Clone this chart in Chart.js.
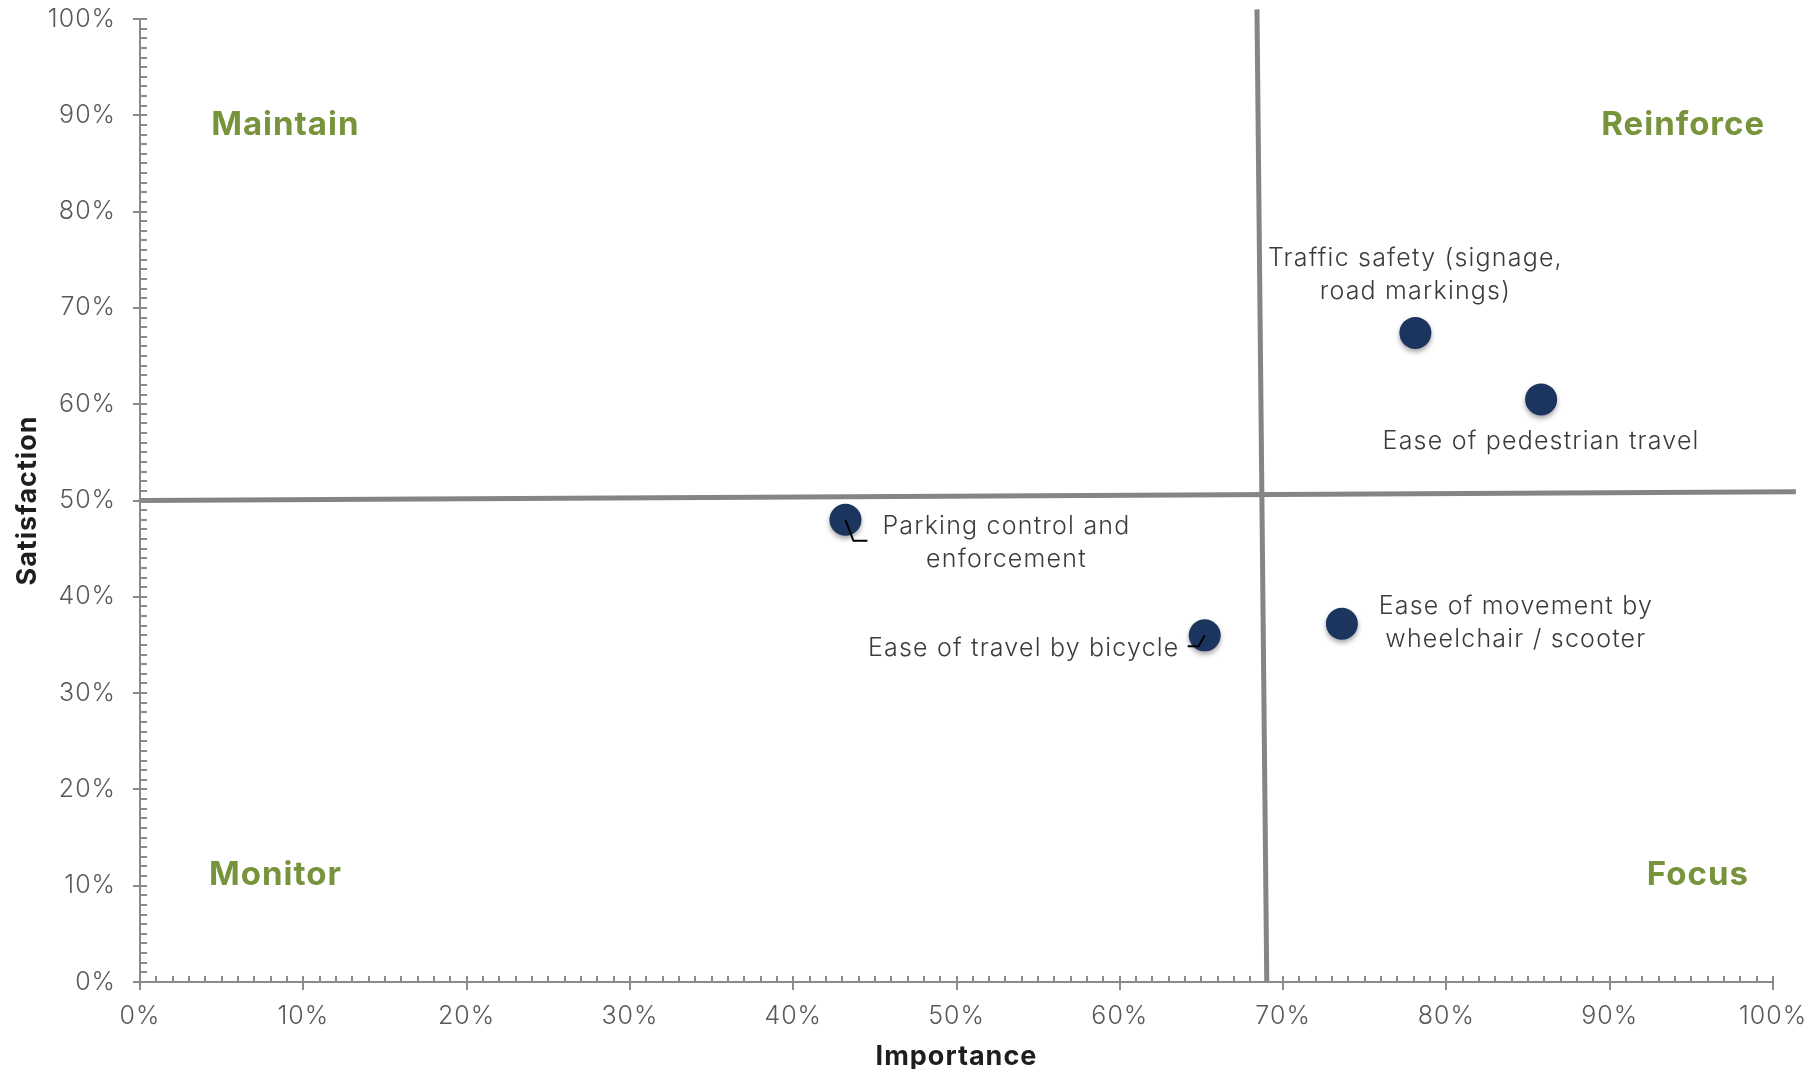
<!DOCTYPE html>
<html>
<head>
<meta charset="utf-8">
<title>Importance vs Satisfaction</title>
<script src="https://cdn.jsdelivr.net/npm/chart.js@4.4.1/dist/chart.umd.min.js"></script>
<style>
  html, body { margin: 0; padding: 0; background: #fff; }
  #wrap { width: 1809px; height: 1069px; }
</style>
</head>
<body>
<div id="wrap"><canvas id="chart" width="1809" height="1069"></canvas></div>
<script>
// survey items, importance (x) and satisfaction (y) in percent
const categories = [
  'Parking control and enforcement',
  'Ease of travel by bicycle',
  'Ease of movement by wheelchair / scooter',
  'Traffic safety (signage, road markings)',
  'Ease of pedestrian travel'
];
const importance = [43.2, 65.2, 73.6, 78.1, 85.8];
const satisfaction = [48.0, 36.0, 37.2, 67.4, 60.5];

// axis tick values
const axisTicks = [0, 10, 20, 30, 40, 50, 60, 70, 80, 90, 100];

// quadrant names and the two dividing lines (drawn by hand, slightly skewed)
const quadrantNames = ['Maintain', 'Reinforce', 'Monitor', 'Focus'];
const dividerH = [{ x: 0, y: 50.0 }, { x: 101.4, y: 50.9 }];
const dividerV = [{ x: 68.4, y: 101.0 }, { x: 69.0, y: 0 }];

// --- layout / styling (not data) ---
const FONT = "'Inter', 'Open Sans', sans-serif";
const GREY = '#8a8a8a';
const NAVY = '#1c355e';
const GREEN = '#77933c';

// where each quadrant name sits, in axis units
const quadrantAnchors = [[8.9, 89.0], [94.5, 89.0], [8.3, 11.1], [95.4, 11.1]];

// label text lines and pixel offset from its point; leader = small callout line
const pointLabels = [
  { lines: ['Parking control and', 'enforcement'], dx: 161, dy: 7, leader: [[0, 0], [8, 21], [22, 21]] },
  { lines: ['Ease of travel by bicycle'], dx: -181, dy: 13, leader: [[0, 0], [-6, 11], [-17, 11]] },
  { lines: ['Ease of movement by', 'wheelchair / scooter'], dx: 174, dy: -17 },
  { lines: ['Traffic safety (signage,', 'road markings)'], dx: 0, dy: -74 },
  { lines: ['Ease of pedestrian travel'], dx: 0, dy: 42 }
];

const points = importance.map((x, i) => ({ x, y: satisfaction[i] }));

// wider tracking for every text the chart draws
const tracking = {
  id: 'tracking',
  beforeDraw(chart) {
    chart.ctx.letterSpacing = '1px';
  }
};

// small inward ticks every 1%, like the original axis
const minorTicks = {
  id: 'minorTicks',
  afterDatasetsDraw(chart) {
    const { ctx, scales: { x, y } } = chart;
    ctx.save();
    ctx.strokeStyle = GREY;
    ctx.lineWidth = 2;
    ctx.beginPath();
    for (let v = 0; v <= 100; v++) {
      const px = Math.round(x.getPixelForValue(v));
      ctx.moveTo(px, y.bottom);
      ctx.lineTo(px, y.bottom - 6);
      const py = Math.round(y.getPixelForValue(v));
      ctx.moveTo(x.left, py);
      ctx.lineTo(x.left + 7, py);
    }
    ctx.stroke();
    ctx.restore();
  }
};

// soft drop shadow under the markers
const markerShadow = {
  id: 'markerShadow',
  beforeDatasetDraw(chart, args) {
    if (args.meta.type !== 'scatter') return;
    const ctx = chart.ctx;
    ctx.save();
    ctx.shadowColor = 'rgba(0,0,0,0.35)';
    ctx.shadowBlur = 5;
    ctx.shadowOffsetY = 3;
  },
  afterDatasetDraw(chart, args) {
    if (args.meta.type !== 'scatter') return;
    chart.ctx.restore();
  }
};

// point labels, callout lines and quadrant names
const annotations = {
  id: 'annotations',
  afterDraw(chart) {
    const { ctx, scales: { x, y } } = chart;
    const meta = chart.getDatasetMeta(0);
    ctx.save();
    ctx.textAlign = 'center';
    ctx.textBaseline = 'middle';
    ctx.letterSpacing = '1.2px';
    ctx.font = `300 25px ${FONT}`;
    ctx.fillStyle = '#3b3b3b';
    pointLabels.forEach((lab, i) => {
      const el = meta.data[i];
      lab.lines.forEach((t, k) => {
        ctx.fillText(t, el.x + lab.dx, el.y + lab.dy + k * 33);
      });
      if (lab.leader) {
        ctx.strokeStyle = '#000';
        ctx.lineWidth = 2;
        ctx.beginPath();
        lab.leader.forEach(([ox, oy], k) => {
          if (k === 0) ctx.moveTo(el.x + ox, el.y + oy);
          else ctx.lineTo(el.x + ox, el.y + oy);
        });
        ctx.stroke();
      }
    });
    ctx.letterSpacing = '1px';
    ctx.font = `bold 33px ${FONT}`;
    ctx.fillStyle = GREEN;
    quadrantNames.forEach((name, i) => {
      const [qx, qy] = quadrantAnchors[i];
      ctx.fillText(name, x.getPixelForValue(qx), y.getPixelForValue(qy));
    });
    ctx.restore();
  }
};

const axisCommon = {
  type: 'linear',
  min: 0,
  max: 100,
  afterBuildTicks(scale) {
    scale.ticks = axisTicks.map(v => ({ value: v }));
  },
  border: { color: GREY, width: 2 },
  grid: { drawOnChartArea: false, color: GREY, lineWidth: 2, tickWidth: 2 }
};

new Chart(document.getElementById('chart'), {
  data: {
    datasets: [
      {
        type: 'scatter',
        label: 'Items',
        data: points,
        pointRadius: 16,
        pointHoverRadius: 16,
        pointBackgroundColor: NAVY,
        pointBorderColor: NAVY,
        pointBorderWidth: 0,
        order: 1
      },
      {
        type: 'line',
        label: 'Importance divide',
        data: dividerV,
        borderColor: '#858585',
        borderWidth: 5,
        pointRadius: 0,
        clip: false,
        order: 2
      },
      {
        type: 'line',
        label: 'Satisfaction divide',
        data: dividerH,
        borderColor: '#858585',
        borderWidth: 5,
        pointRadius: 0,
        clip: false,
        order: 2
      }
    ]
  },
  options: {
    responsive: false,
    animation: false,
    layout: { padding: { top: 19, right: 36, left: 0, bottom: 0 } },
    plugins: {
      legend: { display: false },
      tooltip: { enabled: false }
    },
    scales: {
      x: {
        ...axisCommon,
        position: 'bottom',
        grid: { ...axisCommon.grid, tickLength: 8 },
        afterFit(scale) {
          scale.height = 87;
          scale.paddingLeft = 0;
          scale.paddingRight = 0;
        },
        ticks: {
          callback: v => v + '%',
          color: '#595959',
          padding: 11,
          maxRotation: 0,
          font: { family: FONT, size: 25, weight: 300 }
        },
        title: {
          display: true,
          text: 'Importance',
          color: '#1e1e1e',
          padding: { top: 0, bottom: -3 },
          font: { family: FONT, size: 27, weight: 'bold', lineHeight: 1.1 }
        }
      },
      y: {
        ...axisCommon,
        position: 'left',
        grid: { ...axisCommon.grid, tickLength: 7 },
        afterFit(scale) {
          scale.width = 140;
          scale.paddingTop = 0;
          scale.paddingBottom = 0;
        },
        ticks: {
          callback: v => v + '%',
          color: '#595959',
          padding: 17,
          font: { family: FONT, size: 25, weight: 300 }
        },
        title: {
          display: true,
          text: 'Satisfaction',
          color: '#1e1e1e',
          padding: { top: 13, bottom: 0 },
          font: { family: FONT, size: 27, weight: 'bold', lineHeight: 1.1 }
        }
      }
    }
  },
  plugins: [tracking, minorTicks, markerShadow, annotations]
});
</script>
</body>
</html>
